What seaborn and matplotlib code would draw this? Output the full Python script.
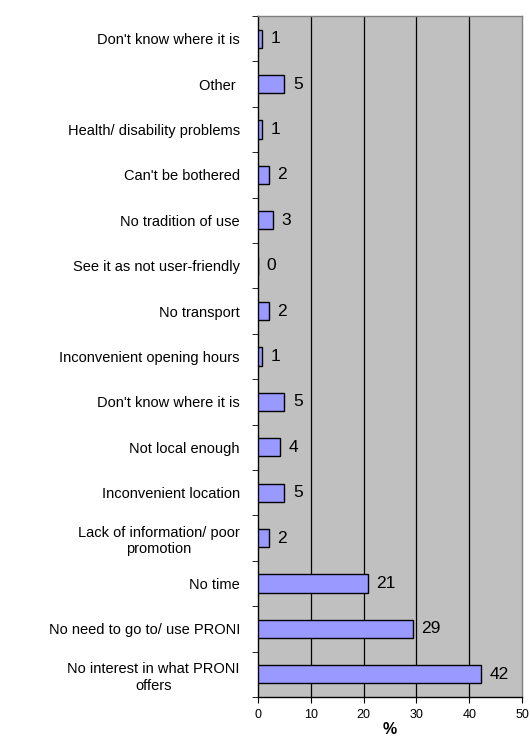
import numpy as np
import matplotlib
matplotlib.use("Agg")
import matplotlib.pyplot as plt
import seaborn as sns
import pandas as pd

reasons = [
    "Don't know where it is",
    "Other ",
    "Health/ disability problems",
    "Can't be bothered",
    "No tradition of use",
    "See it as not user-friendly",
    "No transport",
    "Inconvenient opening hours",
    "Don't know where it is",
    "Not local enough",
    "Inconvenient location",
    "Lack of information/ poor\npromotion",
    "No time",
    "No need to go to/ use PRONI",
    "No interest in what PRONI\noffers",
]
values = [0.8, 5, 0.7, 2.1, 2.8, 0, 2.1, 0.8, 5, 4.2, 5, 2.1, 20.8, 29.3, 42.2]
shown = [1, 5, 1, 2, 3, 0, 2, 1, 5, 4, 5, 2, 21, 29, 42]

data = pd.DataFrame({"pos": range(len(reasons)), "value": values})

sns.set_style("white")
plt.rcParams['font.family'] = ['Liberation Sans', 'DejaVu Sans']
plt.rcParams['text.color'] = "black"
plt.rcParams['axes.labelcolor'] = "black"
plt.rcParams['xtick.color'] = "black"
plt.rcParams['ytick.color'] = "black"

fig = plt.figure(figsize=(5.3, 7.38), dpi=100)
ax = fig.add_axes([258 / 530, 1 - 697 / 738, 264 / 530, 681 / 738])
ax.set_facecolor("#C0C0C0")

sns.barplot(data=data, x="value", y="pos", orient="h", color="#9999FF",
            saturation=1, width=0.4, edgecolor="black", linewidth=1,
            ax=ax, zorder=3)

# value labels to the right of each bar
for i, (v, s) in enumerate(zip(values, shown)):
    ax.text(v + 1.6, i, str(s), va="center", ha="left", fontsize=12.5, zorder=4)

ax.set_xlim(0, 50)
ax.set_ylim(len(reasons) - 0.5, -0.5)
ax.set_xticks(range(0, 51, 10))
ax.tick_params(axis="x", labelsize=9, length=4, direction="out", bottom=True,
               color="black", pad=5)
for x in range(10, 50, 10):
    ax.axvline(x, color="black", linewidth=0.9, zorder=1)

ax.set_yticks(range(len(reasons)))
ax.set_yticklabels(reasons, fontsize=10.5, multialignment="center", linespacing=1.25)
ax.tick_params(axis="y", which="major", length=0, pad=13)
ax.set_yticks(np.arange(-0.5, len(reasons), 1), minor=True)
ax.tick_params(axis="y", which="minor", length=4, direction="out", left=True,
               color="black")

ax.set_xlabel("%", fontsize=11.5, fontweight="bold", labelpad=0)
ax.set_ylabel("")

for side in ["left", "bottom"]:
    ax.spines[side].set_color("black")
    ax.spines[side].set_linewidth(1)
for side in ["top", "right"]:
    ax.spines[side].set_visible(True)
    ax.spines[side].set_color("#808080")
    ax.spines[side].set_linewidth(1)

fig.savefig("out.png", dpi=100)
